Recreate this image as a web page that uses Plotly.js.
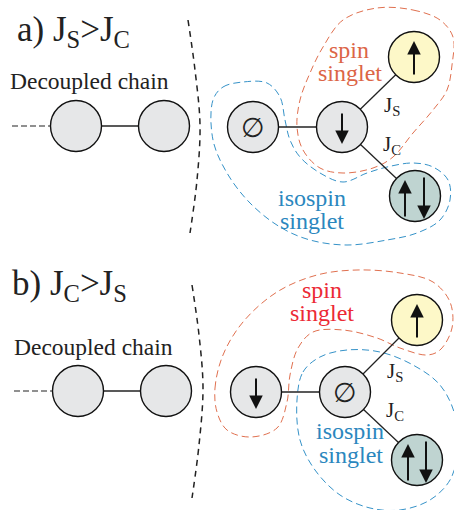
<!DOCTYPE html>
<html><head><meta charset="utf-8">
<script src="https://cdn.plot.ly/plotly-3.0.1.min.js"></script>
<style>html,body{margin:0;padding:0;background:#fff}#c{width:454px;height:510px}</style>
</head><body><div id="c"></div>
<script>
// ---- nodes (sites) ----
const nodeX = [76, 164, 253, 342, 414, 415, 78, 166, 256, 345, 417, 417];
const nodeY = [126, 126, 127, 127, 57, 196, 391, 391, 392, 392, 320, 460];
const nodeKind = ['chain','chain','empty','down','up','pair','chain','chain','down','empty','up','pair'];
const kindFill = {chain:'#e6e7e8', empty:'#e6e7e8', down:'#e6e7e8', up:'#fdf8c8', pair:'#bfd4d1'};

// ---- bonds ----
const bondX = [76,164,null, 253,342,null, 342,414,null, 342,415,null, 78,166,null, 256,345,null, 345,417,null, 345,417];
const bondY = [126,126,null, 127,127,null, 127,57,null, 127,196,null, 391,391,null, 392,392,null, 392,320,null, 392,460];
const stubX = [12,50,null,14,52];
const stubY = [126,126,null,391,391];

// ---- separators ----
const sepAX = [188,195,200,197,190];
const sepAY = [20,70,125,180,233];
const sepBX = [192,199,203,199,192];
const sepBY = [285,335,388,445,498];

// ---- singlet loops ----
const spinAX = [377,413,440,453,452,447,433,413,393,373,343,320,303,297,300,310,323,343,377];
const spinAY = [8,10,20,37,65,90,110,133,157,168,173,168,150,127,100,73,47,20,8];
const isoAX = [213,223,243,267,280,285,290,300,320,343,367,387,413,433,448,450,440,417,387,347,310,280,250,227,213,213];
const isoAY = [100,87,82,83,97,120,140,157,173,182,173,167,163,167,180,200,220,233,240,245,240,227,203,173,140,100];
const spinBX = [217,215,223,243,277,317,357,400,433,450,452,440,427,400,377,343,313,298,290,287,277,250,227,217];
const spinBY = [412,388,355,322,292,275,270,273,282,302,328,350,355,348,338,330,332,348,375,402,428,437,430,412];
const isoBX = [297,303,320,347,380,413,440,455,458,450,430,400,370,340,315,300,297];
const isoBY = [400,372,357,350,352,365,385,415,450,480,500,510,508,495,470,440,400];

// ---- spin arrows: x, tail y, tip y ----
const arrowX = [342, 414, 405, 424, 256, 417, 408, 426];
const arrowTail = [112, 76, 218, 176, 377, 339, 482, 440];
const arrowTip = [144, 41, 180, 219, 409, 304, 444, 483];

// ---- texts ----
const serif = 'Liberation Serif';
const red = '#e0704f';
const blue = '#3592c8';

const traces = [];
traces.push({x: sepAX, y: sepAY, mode:'lines', line:{shape:'spline', color:'#222', width:1.5, dash:'6px,5px'}, hoverinfo:'skip'});
traces.push({x: sepBX, y: sepBY, mode:'lines', line:{shape:'spline', color:'#222', width:1.5, dash:'6px,5px'}, hoverinfo:'skip'});
traces.push({x: spinAX, y: spinAY, mode:'lines', line:{shape:'spline', color:red, width:1, dash:'7px,4px'}, hoverinfo:'skip'});
traces.push({x: isoAX, y: isoAY, mode:'lines', line:{shape:'spline', color:blue, width:1, dash:'7px,4px'}, hoverinfo:'skip'});
traces.push({x: spinBX, y: spinBY, mode:'lines', line:{shape:'spline', color:red, width:1, dash:'7px,4px'}, hoverinfo:'skip'});
traces.push({x: isoBX, y: isoBY, mode:'lines', line:{shape:'spline', color:blue, width:1, dash:'7px,4px'}, hoverinfo:'skip'});
traces.push({x: stubX, y: stubY, mode:'lines', line:{color:'#222', width:1.2, dash:'6px,3px'}, hoverinfo:'skip'});
traces.push({x: bondX, y: bondY, mode:'lines', line:{color:'#222', width:1.3}, hoverinfo:'skip'});
traces.push({x: nodeX, y: nodeY, mode:'markers', marker:{size:51, color: nodeKind.map(k=>kindFill[k]), line:{color:'#111', width:1.4}}, hoverinfo:'skip'});

const ann = [];
function txt(x, y, t, size, color, xa){
  ann.push({x:x, y:y, xref:'x', yref:'y', text:t, showarrow:false, xanchor:xa||'center', yanchor:'middle', font:{family:serif, size:size, color:color||'#222'}});
}
txt(15, 31, 'a) J<sub>S</sub>>J<sub>C</sub>', 35, '#222', 'left');
txt(10, 285, 'b) J<sub>C</sub>>J<sub>S</sub>', 35, '#222', 'left');
txt(8, 81, 'Decoupled chain', 23.5, '#222', 'left');
txt(12, 347, 'Decoupled chain', 23.5, '#222', 'left');
txt(349, 50, 'spin', 24, '#dc6546');
txt(350, 73, 'singlet', 24, '#dc6546');
txt(312, 198, 'isospin', 24, '#2b87be');
txt(312, 221, 'singlet', 24, '#2b87be');
txt(322, 290, 'spin', 24, '#ec2a35');
txt(322, 313, 'singlet', 24, '#ec2a35');
txt(350, 431, 'isospin', 24, '#2b87be');
txt(351, 455, 'singlet', 24, '#2b87be');
txt(392, 106, 'J<sub>S</sub>', 21);
txt(392, 145, 'J<sub>C</sub>', 21);
txt(395, 372, 'J<sub>S</sub>', 21);
txt(395, 411, 'J<sub>C</sub>', 21);
nodeKind.forEach((k,i)=>{ if(k==='empty') ann.push({x:nodeX[i], y:nodeY[i], xref:'x', yref:'y', text:'∅', showarrow:false, font:{family:'DejaVu Sans', size:27, color:'#222'}}); });
arrowX.forEach((x,i)=>{
  ann.push({x:x, y:arrowTip[i], ax:x, ay:arrowTail[i], xref:'x', yref:'y', axref:'x', ayref:'y', text:'', showarrow:true, arrowhead:2, arrowsize:1.35, arrowwidth:2, arrowcolor:'#111', standoff:0, startstandoff:0});
});

const layout = {
  width:454, height:510, margin:{l:0,r:0,t:0,b:0},
  paper_bgcolor:'#fff', plot_bgcolor:'#fff', showlegend:false,
  xaxis:{range:[0,454], visible:false, fixedrange:true},
  yaxis:{range:[510,0], visible:false, fixedrange:true},
  annotations: ann
};
Plotly.newPlot('c', traces, layout, {displayModeBar:false, staticPlot:true});
</script></body></html>
